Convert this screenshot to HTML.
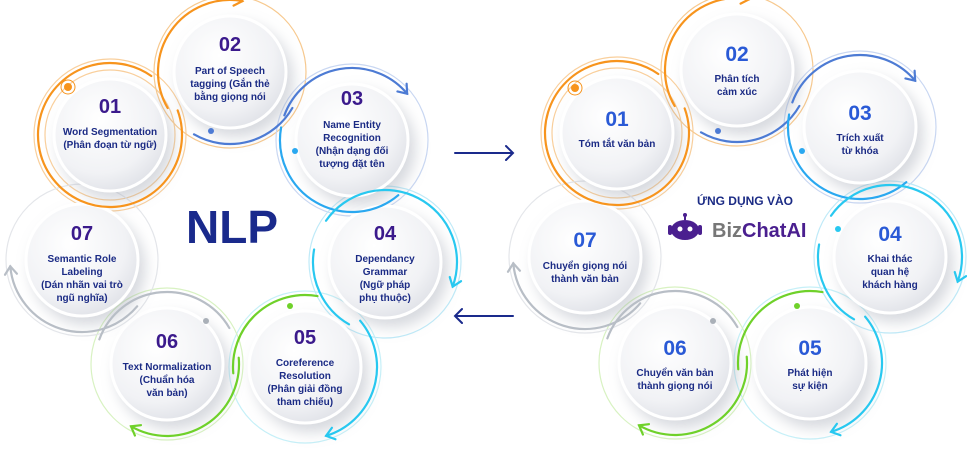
<!DOCTYPE html>
<html><head><meta charset="utf-8"><style>
html,body{margin:0;padding:0;background:#fff;width:967px;height:454px;overflow:hidden}
svg{display:block}
text{font-family:"Liberation Sans",sans-serif;font-weight:bold;text-anchor:middle}
.n{font-size:20px;fill:#3b1a8c}
.nb{font-size:21px;fill:#2a5ad6}
.l{font-size:10px;fill:#1b2b85}
</style></head><body>
<svg id="svg" width="967" height="454" viewBox="0 0 967 454">
<defs>
<radialGradient id="g" cx="40%" cy="35%" r="70%"><stop offset="0" stop-color="#ffffff"/><stop offset="0.7" stop-color="#f1f2f5"/><stop offset="1" stop-color="#dfe1e7"/></radialGradient>
<filter id="s" x="-40%" y="-40%" width="180%" height="180%"><feDropShadow dx="6" dy="8" stdDeviation="7" flood-color="#9aa0ad" flood-opacity="0.4"/></filter>
<g id="node"><circle r="56" fill="url(#g)" filter="url(#s)" stroke="#fff" stroke-width="3"/></g>
</defs>
<g id="rings" fill="none" stroke-width="1.2"></g>
<use href="#node" x="110" y="135"/><use href="#node" x="230" y="72"/><use href="#node" x="352" y="140"/>
<use href="#node" x="385" y="262"/><use href="#node" x="305" y="367"/><use href="#node" x="167" y="364"/><use href="#node" x="82" y="260"/>
<use href="#node" x="617" y="133"/><use href="#node" x="737" y="70"/><use href="#node" x="860" y="127"/>
<use href="#node" x="890" y="257"/><use href="#node" x="810" y="363"/><use href="#node" x="675" y="363"/><use href="#node" x="585" y="257"/>
<g id="arcs" fill="none" stroke-width="2.2" stroke-linecap="round"></g>

<circle cx="68" cy="87" r="4" fill="#f7941d"/><circle cx="68" cy="87" r="7" fill="none" stroke="#f7941d" stroke-width="1"/>
<circle cx="211" cy="131" r="3" fill="#4d7bd4"/><circle cx="295" cy="151" r="3" fill="#2aa8f0"/>
<circle cx="290" cy="306" r="3" fill="#6fd12a"/><circle cx="206" cy="321" r="3" fill="#aab0b8"/>
<text class="n" x="110" y="113">01</text>
<text class="l" x="110" y="135">Word Segmentation</text><text class="l" x="110" y="148">(Phân đoạn từ ngữ)</text>
<text class="n" x="230" y="51">02</text>
<text class="l" x="230" y="74">Part of Speech</text><text class="l" x="230" y="87">tagging (Gắn thẻ</text><text class="l" x="230" y="100">bằng giọng nói</text>
<text class="n" x="352" y="105">03</text>
<text class="l" x="352" y="128">Name Entity</text><text class="l" x="352" y="141">Recognition</text><text class="l" x="352" y="154">(Nhận dạng đối</text><text class="l" x="352" y="167">tượng đặt tên</text>
<text class="n" x="385" y="240">04</text>
<text class="l" x="385" y="262">Dependancy</text><text class="l" x="385" y="275">Grammar</text><text class="l" x="385" y="288">(Ngữ pháp</text><text class="l" x="385" y="301">phụ thuộc)</text>
<text class="n" x="305" y="344">05</text>
<text class="l" x="305" y="366">Coreference</text><text class="l" x="305" y="379">Resolution</text><text class="l" x="305" y="392">(Phân giải đồng</text><text class="l" x="305" y="405">tham chiếu)</text>
<text class="n" x="167" y="348">06</text>
<text class="l" x="167" y="370">Text Normalization</text><text class="l" x="167" y="383">(Chuẩn hóa</text><text class="l" x="167" y="396">văn bản)</text>
<text class="n" x="82" y="240">07</text>
<text class="l" x="82" y="262">Semantic Role</text><text class="l" x="82" y="275">Labeling</text><text class="l" x="82" y="288">(Dán nhãn vai trò</text><text class="l" x="82" y="301">ngũ nghĩa)</text>
<text x="232" y="243" style="font-size:46px;fill:#1a2a8c">NLP</text>

<g stroke="#1a2a8c" stroke-width="2" fill="none" stroke-linecap="round">
<path d="M455 153 H513 M506 146 L513 153 L506 160"/>
<path d="M455 316 H513 M462 309 L455 316 L462 323"/>
</g>

<circle cx="575" cy="88" r="4" fill="#f7941d"/><circle cx="575" cy="88" r="7" fill="none" stroke="#f7941d" stroke-width="1"/>
<circle cx="718" cy="131" r="3" fill="#4d7bd4"/><circle cx="802" cy="151" r="3" fill="#2aa8f0"/>
<circle cx="838" cy="229" r="3" fill="#28c8f0"/><circle cx="797" cy="306" r="3" fill="#6fd12a"/><circle cx="713" cy="321" r="3" fill="#aab0b8"/>
<text class="nb" x="617" y="126">01</text><text class="l" x="617" y="147">Tóm tắt văn bản</text>
<text class="nb" x="737" y="61">02</text><text class="l" x="737" y="82">Phân tích</text><text class="l" x="737" y="95">cảm xúc</text>
<text class="nb" x="860" y="120">03</text><text class="l" x="860" y="141">Trích xuất</text><text class="l" x="860" y="154">từ khóa</text>
<text class="nb" x="890" y="241">04</text><text class="l" x="890" y="262">Khai thác</text><text class="l" x="890" y="275">quan hệ</text><text class="l" x="890" y="288">khách hàng</text>
<text class="nb" x="810" y="355">05</text><text class="l" x="810" y="376">Phát hiện</text><text class="l" x="810" y="389">sự kiện</text>
<text class="nb" x="675" y="355">06</text><text class="l" x="675" y="376">Chuyển văn bản</text><text class="l" x="675" y="389">thành giọng nói</text>
<text class="nb" x="585" y="247">07</text><text class="l" x="585" y="269">Chuyển giọng nói</text><text class="l" x="585" y="282">thành văn bản</text>
<text x="745" y="205" style="font-size:12px;fill:#1b2b85">ỨNG DỤNG VÀO</text>
<g fill="#4a1f8f">
<circle cx="685" cy="215" r="2"/><rect x="684" y="215" width="2" height="5"/>
<ellipse cx="685" cy="230" rx="14" ry="10"/><rect x="668" y="225" width="4" height="10" rx="2"/><rect x="698" y="225" width="4" height="10" rx="2"/>
<circle cx="680" cy="229" r="2.5" fill="#fff"/><circle cx="690" cy="229" r="2.5" fill="#fff"/>
</g>
<text x="712" y="237" style="font-size:20px;fill:#777;text-anchor:start">Biz<tspan fill="#4a1f8f">ChatAI</tspan></text>
</svg>
<script>
(function(){
var NS="http://www.w3.org/2000/svg";
var arcsG=document.getElementById("arcs"), ringsG=document.getElementById("rings");
var groups=[[0,0,[[110,135],[230,72],[352,140],[385,262],[305,367],[167,364],[82,260]]],
            [505,-2,[[617,133],[737,70],[860,127],[890,257],[810,363],[675,363],[585,257]]]];
var O="#f7941d",B="#4d7bd4",C1="#2aa8f0",C="#28c8f0",G="#6fd12a",Y="#b8bec6";
var faint=["#f9cf9c","#f7c98f","#c9d7f2","#bfeaf8","#c6f0f8","#d8f2c2","#e4e6ea"];
// [node, start, span, color, arrow]
var spec=[[0,-20,325,O,0],[1,150,130,O,1],[1,30,90,B,0],[2,200,120,B,1],[2,50,140,C1,0],
          [3,215,165,C,1],[3,120,70,C,0],[4,-40,113,C,1],[4,175,105,G,0],[5,-5,125,G,1],
          [5,200,130,Y,0],[6,40,135,Y,1]];
function el(n,a,p){var e=document.createElementNS(NS,n);for(var k in a)e.setAttribute(k,a[k]);p.appendChild(e);return e;}
groups.forEach(function(gr){
  var P=gr[2];
  P.forEach(function(c,i){el("circle",{cx:c[0],cy:c[1],r:76,stroke:faint[i]},ringsG);
    if(i==0) el("circle",{cx:c[0],cy:c[1],r:65,stroke:"#f9cf9c"},ringsG);});
  spec.forEach(function(s){
    var c=P[s[0]],r=72,a0=s[1]*Math.PI/180,a1=(s[1]+s[2])*Math.PI/180;
    var x0=c[0]+r*Math.cos(a0),y0=c[1]+r*Math.sin(a0),x1=c[0]+r*Math.cos(a1),y1=c[1]+r*Math.sin(a1);
    el("path",{d:"M"+x0+" "+y0+" A"+r+" "+r+" 0 "+(s[2]>180?1:0)+" 1 "+x1+" "+y1,stroke:s[3]},arcsG);
    if(s[4]){
      var tx=-Math.sin(a1),ty=Math.cos(a1),nx=Math.cos(a1),ny=Math.sin(a1),L=8,W=6;
      var bx=x1-tx*L,by=y1-ty*L;
      el("path",{d:"M"+(bx+nx*W)+" "+(by+ny*W)+" L"+x1+" "+y1+" L"+(bx-nx*W)+" "+(by-ny*W),stroke:s[3]},arcsG);
    }
  });
});
})();
</script>
</body></html>
